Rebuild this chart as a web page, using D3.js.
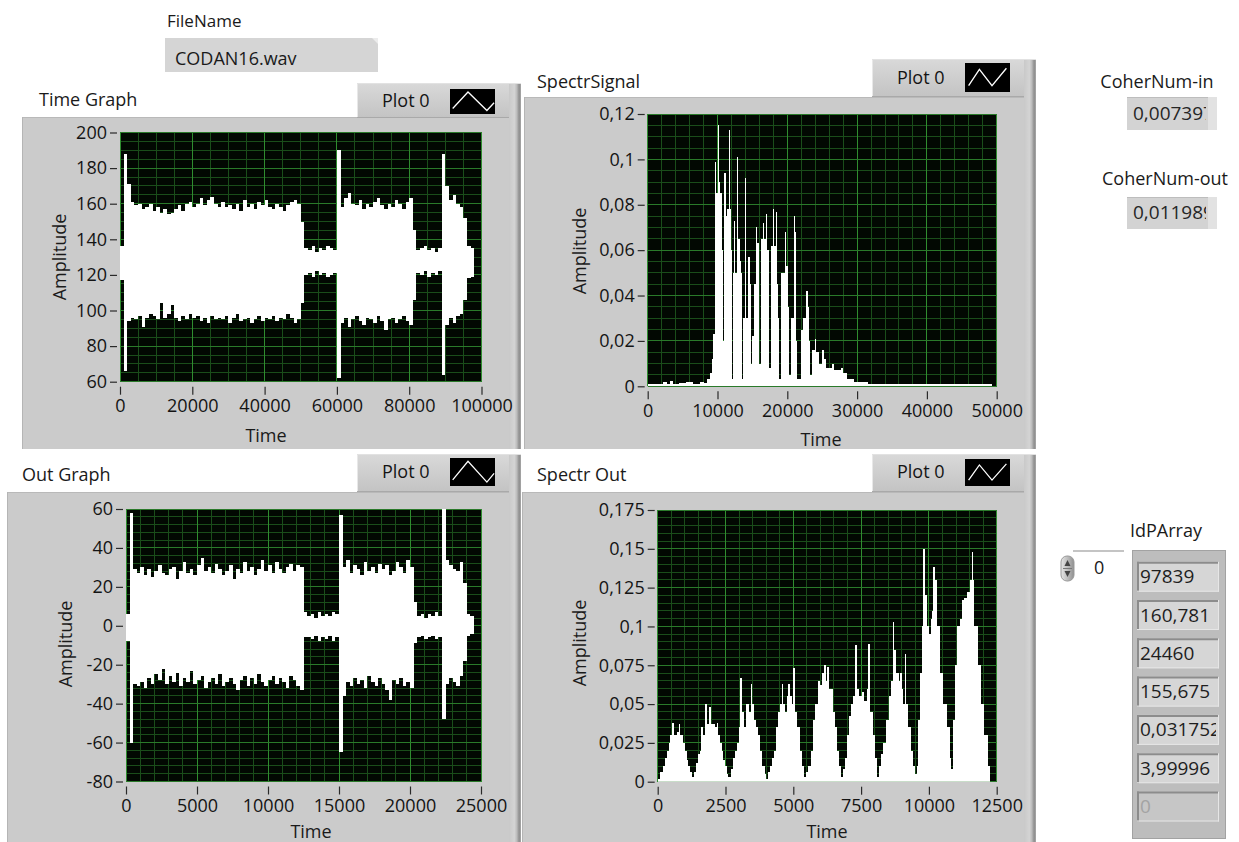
<!DOCTYPE html>
<html><head><meta charset="utf-8">
<script src="https://cdn.jsdelivr.net/npm/d3@7"></script>
<style>
html,body{margin:0;padding:0;background:#fff;}
svg{display:block;font-family:"Open Sans","Noto Sans",sans-serif;}
</style></head><body>
<svg id="c" width="1239" height="842"></svg>
<script>
// ---------------- DATA ----------------
const fileName = "CODAN16.wav";
const coherIn = 0.007397;
const coherOut = 0.011989;
const idpArray = [97839, 160.781, 24460, 155.675, 0.031752, 3.99996, 0];
const idpIndex = 0;

// Time Graph: envelope per 1000-sample bin (upper / lower)
const timeBinWidth = 1000;
const timeUpper = [136,188,171,
161,159,160,157,158,160,
156,158,155,157,154,
155,157,159,156,160,161,158,
160,163,159,162,164,160,158,
161,158,159,157,160,156,162,
158,160,157,161,159,162,158,
157,160,158,156,159,161,162,160,
150,
135,134,136,133,135,134,136,135,134,
190,
158,163,166,160,159,162,157,160,158,161,163,159,157,160,158,162,160,157,161,163,
145,
134,135,136,134,135,133,135,
188,170,
162,165,160,158,
152,136,135];
const timeLower = [117,66,94,
96,95,97,91,96,98,
97,95,104,96,98,
103,96,94,97,95,98,96,
97,94,96,93,97,95,96,
95,97,93,96,98,94,95,
96,93,95,97,94,96,95,
97,94,96,95,98,96,93,95,
104,
120,121,119,122,120,121,119,120,121,
62,
93,96,91,95,97,94,92,96,95,93,97,94,89,95,96,93,95,97,94,92,
106,
121,120,122,119,121,120,122,
64,92,
96,93,97,98,
106,118,119];

// Out Graph: envelope per 250-sample bin
const outBinWidth = 250;
const outUpper = [6,58,29,
27,30,26,29,25,28,
31,27,26,29,30,
24,28,33,27,29,26,31,
35,28,30,27,32,29,26,
28,31,24,29,27,33,28,
30,26,29,34,28,31,27,
33,29,27,30,32,28,31,30,
7,
5,6,4,7,5,6,5,7,6,
57,
30,34,27,31,29,26,33,28,30,27,32,29,31,26,28,33,30,27,34,30,
12,
5,6,4,6,5,7,5,
60,
34,31,29,28,33,
22,6,5];
const outLower = [-8,-60,-30,
-31,-29,-32,-27,-30,-25,
-28,-22,-30,-26,-29,
-24,-31,-27,-29,-23,-30,-28,
-26,-32,-29,-27,-30,-25,-31,
-29,-27,-30,-33,-28,-26,-31,
-27,-30,-25,-29,-31,-28,-26,
-30,-27,-29,-32,-26,-28,-31,-33,
-6,
-6,-7,-5,-8,-6,-7,-5,-8,-6,
-65,
-36,-29,-31,-27,-30,-28,-32,-26,-29,-31,-27,-30,-33,-38,-28,-30,-27,-31,-29,-32,
-9,
-6,-5,-7,-6,-5,-7,-6,
-48,
-30,-27,-29,-31,-26,
-18,-5,-4];

// SpectrSignal: [frequency, amplitude] step points
const spectrSignal = [[0,0.0008],[1500,0.0012],[2256,0.002],[2700,0.001],[3200,0.0022],[3696,0.0012],[4500,0.0015],[5500,0.0018],[6500,0.0012],[7536,0.002],[8000,0.0015],[8496,0.003],[8976,0.006],[9200,0.012],[9360,0.023],[9600,0.06],[9696,0.099],[9840,0.085],[10080,0.115],[10250,0.09],[10400,0.085],[10656,0.06],[10800,0.02],[10992,0.094],[11184,0.075],[11376,0.078],[11616,0.113],[11760,0.078],[11904,0.06],[12050,0.003],[12200,0.05],[12400,0.073],[12550,0.05],[12816,0.101],[12950,0.065],[13152,0.055],[13296,0.068],[13400,0.05],[13536,0.003],[13700,0.03],[13950,0.092],[14100,0.03],[14352,0.057],[14640,0.045],[14736,0.01],[14976,0.022],[15216,0.045],[15456,0.07],[15600,0.063],[15850,0.063],[16000,0.01],[16272,0.065],[16512,0.072],[16656,0.065],[16900,0.076],[17100,0.06],[17376,0.008],[17712,0.062],[18000,0.078],[18150,0.062],[18336,0.077],[18480,0.045],[18700,0.03],[18864,0.003],[19152,0.05],[19600,0.068],[19800,0.053],[20100,0.035],[20304,0.005],[20592,0.03],[20900,0.075],[21050,0.068],[21200,0.04],[21300,0.02],[21400,0.003],[21936,0.025],[22200,0.03],[22700,0.042],[22900,0.035],[23100,0.02],[23280,0.005],[23472,0.016],[23900,0.021],[24100,0.015],[24576,0.01],[25000,0.016],[25200,0.012],[25500,0.008],[26400,0.01],[26700,0.007],[27700,0.008],[28000,0.006],[28600,0.003],[29600,0.002],[31500,0.0008],[48500,0.0012],[49300,0]];

// Spectr Out: [frequency, amplitude] step points
const spectrOut = [[0,0.002],[100,0.006],[200,0.01],[280,0.015],[332,0.02],[400,0.025],[455,0.03],[540,0.038],[600,0.03],[700,0.032],[780,0.037],[830,0.03],[920,0.025],[1008,0.02],[1080,0.014],[1131,0.01],[1200,0.006],[1254,0.003],
[1340,0.006],[1420,0.012],[1500,0.018],[1561,0.02],[1610,0.035],[1680,0.03],[1760,0.05],[1820,0.037],[1900,0.048],[1960,0.037],[2100,0.035],[2175,0.038],[2230,0.03],[2300,0.025],[2360,0.02],[2420,0.014],[2483,0.01],[2550,0.005],[2606,0.003],
[2700,0.008],[2790,0.015],[2850,0.02],[2913,0.025],[2980,0.035],[3036,0.067],[3090,0.045],[3180,0.035],[3260,0.05],[3350,0.045],[3429,0.063],[3480,0.05],[3560,0.04],[3626,0.035],[3700,0.03],[3773,0.02],[3860,0.01],[3940,0.005],[4000,0.002],
[4080,0.006],[4150,0.01],[4203,0.015],[4300,0.02],[4380,0.035],[4449,0.045],[4520,0.05],[4572,0.063],[4620,0.05],[4700,0.045],[4780,0.055],[4818,0.063],[4870,0.055],[4940,0.05],[5002,0.073],[5050,0.045],[5130,0.035],[5248,0.02],[5330,0.01],[5395,0.003],
[5470,0.006],[5555,0.01],[5640,0.02],[5715,0.04],[5801,0.05],[5899,0.065],[5980,0.062],[6060,0.07],[6133,0.075],[6200,0.065],[6256,0.074],[6330,0.06],[6452,0.045],[6530,0.035],[6624,0.02],[6700,0.01],[6760,0.003],
[6830,0.008],[6907,0.015],[6990,0.03],[7060,0.042],[7116,0.05],[7214,0.055],[7290,0.088],[7340,0.06],[7420,0.055],[7520,0.058],[7620,0.052],[7700,0.06],[7767,0.089],[7820,0.045],[7927,0.03],[8010,0.015],[8080,0.003],
[8150,0.01],[8240,0.018],[8320,0.025],[8419,0.04],[8520,0.055],[8600,0.065],[8680,0.103],[8720,0.085],[8800,0.07],[8880,0.065],[8930,0.07],[9000,0.06],[9060,0.05],[9119,0.082],[9160,0.05],[9242,0.035],[9330,0.02],[9400,0.01],[9488,0.005],
[9549,0.01],[9610,0.04],[9672,0.07],[9730,0.1],[9795,0.15],[9840,0.12],[9918,0.1],[9990,0.095],[10060,0.105],[10120,0.11],[10164,0.138],[10220,0.13],[10290,0.1],[10410,0.07],[10530,0.05],[10656,0.035],[10779,0.015],[10830,0.008],
[10877,0.04],[10963,0.075],[11050,0.1],[11130,0.105],[11209,0.117],[11300,0.118],[11400,0.122],[11500,0.13],[11578,0.148],[11620,0.13],[11680,0.1],[11799,0.075],[11922,0.05],[12045,0.03],[12168,0.01],[12254,0]];

// Tick values
const timeXTicks = [0,20000,40000,60000,80000,100000];
const timeYTicks = [60,80,100,120,140,160,180,200];
const specXTicks = [0,10000,20000,30000,40000,50000];
const specYTicks = [0,0.02,0.04,0.06,0.08,0.1,0.12];
const outXTicks = [0,5000,10000,15000,20000,25000];
const outYTicks = [-80,-60,-40,-20,0,20,40,60];
const specOutXTicks = [0,2500,5000,7500,10000,12500];
const specOutYTicks = [0,0.025,0.05,0.075,0.1,0.125,0.15,0.175];

// ---------------- DRAWING ----------------
const svg = d3.select("#c");
const defs = svg.append("defs");
const loc = d3.formatLocale({decimal:",", thousands:"", grouping:[3], currency:["",""], minus:"-"});
const tickFmt = loc.format(".3~f");
const commaNum = v => String(v).replace(".", ",");

function linGrad(id, vertical, stops){
  const g = defs.append("linearGradient").attr("id", id)
    .attr("x1",0).attr("y1",0).attr("x2", vertical?0:1).attr("y2", vertical?1:0);
  stops.forEach(s => g.append("stop").attr("offset", s[0]).attr("stop-color", s[1]));
}
linGrad("edgeFill", false, [["0%","#c9c9c9"],["45%","#d4d4d4"],["65%","#bcbcbc"],["85%","#8d8d8d"],["100%","#a9a9a9"]]);
linGrad("tabFill", true, [["0%","#d9d9d9"],["100%","#c3c3c3"]]);
linGrad("spinFill", false, [["0%","#e6e6e6"],["50%","#bdbdbd"],["100%","#8f8f8f"]]);

function rect(g, x0, y0, x1, y1, fill){
  return g.append("rect").attr("x",x0).attr("y",y0).attr("width",x1-x0).attr("height",y1-y0).attr("fill",fill);
}
function text(g, x, y, s, opts={}){
  return g.append("text").attr("x",x).attr("y",y).text(s)
    .attr("font-size", opts.size||18).attr("fill", opts.fill||"#1e1e1e")
    .attr("text-anchor", opts.anchor||"start");
}

function subdivide(ticks, n){
  const out = [];
  for (let i=0;i<ticks.length-1;i++){
    const a = ticks[i], b = ticks[i+1];
    for (let k=1;k<n;k++) out.push(a + (b-a)*k/n);
  }
  return out;
}

let clipId = 0;
function drawGraph(c){
  const g = svg.append("g");
  const [px0, py0, px1, py1] = c.panel;
  // panel
  rect(g, px0, py0, px1, py1, "#cbcbcb");
  rect(g, px1-12, py0, px1, py1, "url(#edgeFill)");
  g.append("line").attr("x1",px0).attr("x2",px1-12).attr("y1",py0+0.5).attr("y2",py0+0.5).attr("stroke","#b9b9b9");
  g.append("line").attr("x1",px0+0.5).attr("x2",px0+0.5).attr("y1",py0).attr("y2",py1).attr("stroke","#b5b5b5");
  // legend tab
  const [lx0, ly0, lx1, ly1] = c.legend;
  rect(g, lx0, ly0, lx1, ly1, "url(#tabFill)");
  rect(g, lx1-12, ly0, lx1, ly1, "url(#edgeFill)");
  g.append("line").attr("x1",lx0+0.5).attr("x2",lx0+0.5).attr("y1",ly0).attr("y2",ly1).attr("stroke","#e8e8e8");
  g.append("line").attr("x1",lx0).attr("x2",lx1).attr("y1",ly0+0.5).attr("y2",ly0+0.5).attr("stroke","#e2e2e2");
  g.append("line").attr("x1",lx0).attr("x2",lx1-12).attr("y1",ly1-0.5).attr("y2",ly1-0.5).attr("stroke","#a9a9a9");
  text(g, c.plotLabelX, c.plotLabelY, "Plot 0", {fill:"#141414"});
  const [sx0, sy0, sx1, sy1] = c.swatch;
  rect(g, sx0, sy0, sx1, sy1, "#000");
  const sw = sx1-sx0, sh = sy1-sy0;
  g.append("path").attr("d", d3.line()(c.swatchShape.map(p => [sx0+p[0]*sw, sy0+p[1]*sh])))
    .attr("fill","none").attr("stroke","#fff").attr("stroke-width",1.3);
  // title
  text(g, c.titleX, c.titleY, c.title, {fill:"#1a1a1a"});

  // scales
  const x = d3.scaleLinear().domain(c.xDomain).range([c.plot[0], c.plot[2]]);
  const y = d3.scaleLinear().domain(c.yDomain).range([c.plot[3], c.plot[1]]);
  rect(g, c.plot[0], c.plot[1], c.plot[2], c.plot[3], "#020802");
  // grid
  const grid = g.append("g").attr("shape-rendering","crispEdges");
  subdivide(c.xTicks, c.xSub).forEach(v => grid.append("line").attr("x1",x(v)).attr("x2",x(v)).attr("y1",c.plot[1]).attr("y2",c.plot[3]).attr("stroke","#1a4d1a"));
  subdivide(c.yTicks, c.ySub).forEach(v => grid.append("line").attr("y1",y(v)).attr("y2",y(v)).attr("x1",c.plot[0]).attr("x2",c.plot[2]).attr("stroke","#1a4d1a"));
  c.xTicks.forEach(v => grid.append("line").attr("x1",x(v)).attr("x2",x(v)).attr("y1",c.plot[1]).attr("y2",c.plot[3]).attr("stroke","#2f8c2f"));
  c.yTicks.forEach(v => grid.append("line").attr("y1",y(v)).attr("y2",y(v)).attr("x1",c.plot[0]).attr("x2",c.plot[2]).attr("stroke","#2a7a2a"));
  // data
  const id = "clip" + (clipId++);
  defs.append("clipPath").attr("id", id).append("rect")
    .attr("x",c.plot[0]).attr("y",c.plot[1]).attr("width",c.plot[2]-c.plot[0]).attr("height",c.plot[3]-c.plot[1]);
  const dg = g.append("g").attr("clip-path", `url(#${id})`);
  c.draw(dg, x, y);

  // axes
  const ax = d3.axisBottom(x).tickValues(c.xTicks).tickSize(8).tickPadding(5).tickFormat(tickFmt);
  const axg = g.append("g").attr("transform", `translate(0,${c.plot[3]+5})`).call(ax);
  const ay = d3.axisLeft(y).tickValues(c.yTicks).tickSize(7).tickPadding(3).tickFormat(tickFmt);
  const ayg = g.append("g").attr("transform", `translate(${c.plot[0]-3},0)`).call(ay);
  [axg, ayg].forEach(a => {
    a.select(".domain").remove();
    a.attr("font-family", null).attr("font-size", 18).attr("color", "#141414");
    a.selectAll(".tick line").attr("stroke","#2a2a2a").attr("stroke-width",1.2);
  });
  text(g, c.timeX, c.timeY, "Time", {anchor:"middle", fill:"#1a1a1a"});
  g.append("text").attr("transform", `translate(${c.ampX},${c.ampY}) rotate(-90)`)
    .attr("text-anchor","middle").attr("font-size",18).attr("fill","#1a1a1a").text("Amplitude");
}

function envelope(upper, lower, binW){
  return (g, x, y) => {
    const pts = upper.map((u,i) => ({t:i*binW, u:u, l:lower[i]}));
    pts.push({t:upper.length*binW, u:upper[upper.length-1], l:lower[lower.length-1]});
    g.append("path").datum(pts)
      .attr("d", d3.area().x(d=>x(d.t)).y0(d=>y(d.l)).y1(d=>y(d.u)).curve(d3.curveStepAfter))
      .attr("fill","#fff").attr("shape-rendering","crispEdges");
  };
}
function spectrum(points){
  return (g, x, y) => {
    g.append("path").datum(points)
      .attr("d", d3.area().x(d=>x(d[0])).y0(y(0)).y1(d=>y(d[1])).curve(d3.curveStepAfter))
      .attr("fill","#fff").attr("shape-rendering","crispEdges");
  };
}

const shapeA = [[0.06,0.78],[0.4,0.12],[0.82,0.86],[0.98,0.55]];
const shapeB = [[0.08,0.78],[0.32,0.22],[0.6,0.78],[0.92,0.18]];

drawGraph({title:"Time Graph", titleX:39, titleY:106,
  panel:[22,117,521,449], legend:[357,83,521,118], plotLabelX:382, plotLabelY:107,
  swatch:[450,89,495,114], swatchShape:shapeA,
  plot:[120,132.5,481.5,381.7], xDomain:[0,100000], yDomain:[60,200],
  xTicks:timeXTicks, yTicks:timeYTicks, xSub:4, ySub:4,
  timeX:266, timeY:442, ampX:66, ampY:257,
  draw: envelope(timeUpper, timeLower, timeBinWidth)});

drawGraph({title:"SpectrSignal", titleX:537, titleY:88,
  panel:[524,97,1036,449], legend:[872,59,1036,97], plotLabelX:897, plotLabelY:84,
  swatch:[965,63,1010,92], swatchShape:shapeB,
  plot:[647.7,114,996.7,386.3], xDomain:[0,50000], yDomain:[0,0.12],
  xTicks:specXTicks, yTicks:specYTicks, xSub:5, ySub:4,
  timeX:821, timeY:446, ampX:586, ampY:251,
  draw: spectrum(spectrSignal)});

drawGraph({title:"Out Graph", titleX:22, titleY:481,
  panel:[7,492,521,842], legend:[357,454,521,492], plotLabelX:382, plotLabelY:478,
  swatch:[450,458,495,486], swatchShape:shapeA,
  plot:[126,509,481,781.5], xDomain:[0,25000], yDomain:[-80,60],
  xTicks:outXTicks, yTicks:outYTicks, xSub:5, ySub:5,
  timeX:311, timeY:838, ampX:72, ampY:644,
  draw: envelope(outUpper, outLower, outBinWidth)});

drawGraph({title:"Spectr Out", titleX:537, titleY:481,
  panel:[522,492,1036,842], legend:[872,454,1036,492], plotLabelX:897, plotLabelY:478,
  swatch:[965,459,1010,486], swatchShape:shapeB,
  plot:[657.7,510,996.7,781.7], xDomain:[0,12500], yDomain:[0,0.175],
  xTicks:specOutXTicks, yTicks:specOutYTicks, xSub:5, ySub:5,
  timeX:827, timeY:838, ampX:586, ampY:643,
  draw: spectrum(spectrOut)});

// ---------------- Controls ----------------
const ctl = svg.append("g");
// FileName
text(ctl, 167, 27, "FileName", {size:17, fill:"#1a1a1a"});
rect(ctl, 165, 38, 378, 72, "#d5d5d5");
ctl.append("path").attr("d","M372,38 L378,38 L378,44 Z").attr("fill","#ececec");
text(ctl, 175, 65, fileName, {size:18, fill:"#1a1a1a"});

// Coherence numbers
function numIndicator(labelX, labelY, label, y0, y1, value){
  text(ctl, labelX, labelY, label, {anchor:"middle", fill:"#1a1a1a"});
  rect(ctl, 1127, y0, 1217, y1, "#d3d3d3");
  rect(ctl, 1208, y0, 1217, y1, "#e2e2e2");
  ctl.append("line").attr("x1",1127).attr("x2",1208).attr("y1",y0+0.5).attr("y2",y0+0.5).attr("stroke","#bdbdbd");
  const id = "clip" + (clipId++);
  defs.append("clipPath").attr("id", id).append("rect").attr("x",1127).attr("y",y0).attr("width",79).attr("height",y1-y0);
  text(ctl, 1133, y1-10, commaNum(value), {size:19, fill:"#262626"}).attr("clip-path", `url(#${id})`);
}
numIndicator(1157, 88, "CoherNum-in", 97, 130, coherIn);
numIndicator(1165, 185, "CoherNum-out", 197, 229, coherOut);

// IdPArray
text(ctl, 1130, 537, "IdPArray", {fill:"#1a1a1a"});
// index control
rect(ctl, 1073, 550, 1124, 581, "#ffffff");
ctl.append("line").attr("x1",1073).attr("x2",1124).attr("y1",551).attr("y2",551).attr("stroke","#c4c4c4").attr("stroke-width",2);
ctl.append("rect").attr("x",1061).attr("y",556).attr("width",13).attr("height",25).attr("rx",6).attr("fill","url(#spinFill)").attr("stroke","#9a9a9a");
ctl.append("path").attr("d","M1067.5,560 L1064.5,566 L1070.5,566 Z").attr("fill","#444");
ctl.append("path").attr("d","M1067.5,577 L1064.5,571 L1070.5,571 Z").attr("fill","#444");
ctl.append("line").attr("x1",1063).attr("x2",1072).attr("y1",568.5).attr("y2",568.5).attr("stroke","#777");
text(ctl, 1094, 574, String(idpIndex), {fill:"#1a1a1a"});
// array frame
rect(ctl, 1132, 550, 1226, 839, "#bdbdbd");
ctl.append("rect").attr("x",1132.5).attr("y",550.5).attr("width",93).attr("height",288).attr("fill","none").attr("stroke","#a2a2a2");
idpArray.forEach((v,i) => {
  const cy = 576.7 + i*38.3;
  const disabled = i === idpArray.length-1;
  const y0 = cy-15, y1 = cy+15;
  rect(ctl, 1137, y0, 1219, y1, disabled ? "#c6c6c6" : "#d6d6d6");
  ctl.append("line").attr("x1",1137).attr("x2",1219).attr("y1",y0+1).attr("y2",y0+1).attr("stroke","#8c8c8c").attr("stroke-width",2);
  ctl.append("line").attr("x1",1138).attr("x2",1138).attr("y1",y0).attr("y2",y1).attr("stroke","#8c8c8c").attr("stroke-width",2);
  ctl.append("line").attr("x1",1137).attr("x2",1219).attr("y1",y1-0.5).attr("y2",y1-0.5).attr("stroke","#e6e6e6");
  ctl.append("line").attr("x1",1218.5).attr("x2",1218.5).attr("y1",y0).attr("y2",y1).attr("stroke","#e6e6e6");
  const id = "clip" + (clipId++);
  defs.append("clipPath").attr("id", id).append("rect").attr("x",1139).attr("y",y0).attr("width",77).attr("height",30);
  text(ctl, 1140, cy+6.5, commaNum(v), {size:19, fill: disabled ? "#a3a3a3" : "#1e1e1e"}).attr("clip-path", `url(#${id})`);
});
</script>
</body></html>
